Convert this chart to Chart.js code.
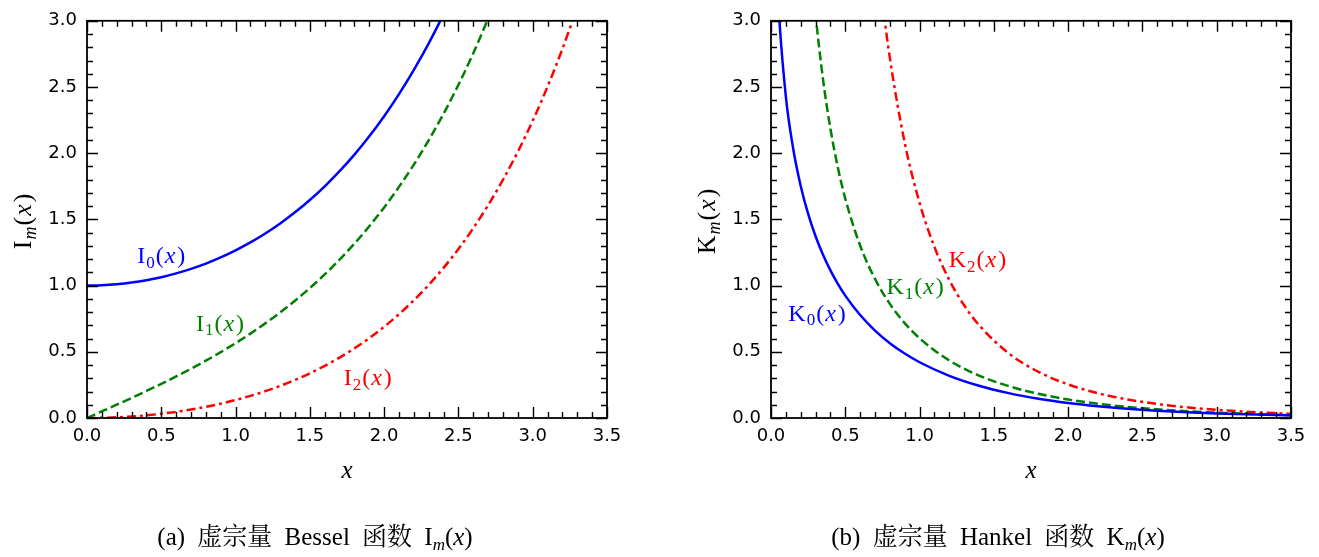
<!DOCTYPE html>
<html><head><meta charset="utf-8">
<script src="https://cdn.jsdelivr.net/npm/chart.js@4/dist/chart.umd.min.js"></script>
<style>
body{margin:0;width:1319px;height:557px;background:#fff;position:relative;overflow:hidden}
canvas{position:absolute;top:0}
#c1{left:0}
#c2{left:659px}
.cap{position:absolute;top:524px;font-family:'Liberation Serif','Noto Serif CJK SC','Noto Sans CJK SC',serif;font-size:25px;line-height:26px;word-spacing:6px;white-space:nowrap;transform:translateX(-50%);color:#000}
.cap i{font-style:italic}
.cap sub{font-size:17px;font-style:italic;vertical-align:-5px;line-height:0}
</style></head><body>
<canvas id="c1" width="659" height="557"></canvas>
<canvas id="c2" width="660" height="557"></canvas>
<div class="cap" style="left:315px">(a) 虚宗量 Bessel 函数 I<sub>m</sub>(<i>x</i>)</div>
<div class="cap" style="left:998px">(b) 虚宗量 Hankel 函数 K<sub>m</sub>(<i>x</i>)</div>
<script>
// ---------- data ----------
const xI = [0.0,0.1,0.2,0.3,0.4,0.5,0.6,0.7,0.8,0.9,1.0,1.1,1.2,1.3,1.4,1.5,1.6,1.7,1.8,1.9,2.0,2.1,2.2,2.3,2.4,2.5,2.6,2.7,2.8,2.9,3.0,3.1,3.2,3.3];
const I0 = [1.0,1.0025,1.0100,1.0226,1.0404,1.0635,1.0920,1.1263,1.1665,1.2130,1.2661,1.3262,1.3937,1.4693,1.5534,1.6467,1.7500,1.8640,1.9896,2.1277,2.2796,2.4463,2.6291,2.8296,3.0493];
const I1 = [0.0,0.0501,0.1005,0.1517,0.2040,0.2579,0.3137,0.3719,0.4329,0.4971,0.5652,0.6375,0.7147,0.7973,0.8861,0.9817,1.0848,1.1963,1.3172,1.4482,1.5906,1.7455,1.9141,2.0978,2.2981,2.5167,2.7554,3.0161];
const I2 = [0.0,0.0013,0.0050,0.0113,0.0203,0.0319,0.0464,0.0638,0.0844,0.1082,0.1357,0.1670,0.2026,0.2426,0.2875,0.3378,0.3940,0.4565,0.5260,0.6033,0.6889,0.7838,0.8891,1.0054,1.1342,1.2765,1.4338,1.6075,1.7994,2.0113,2.2452,2.5034,2.7883,3.1027];

const K0x = [0.04,0.05,0.1,0.15,0.2,0.25,0.3,0.35,0.4,0.45,0.5,0.6,0.7,0.8,0.9,1.0,1.2,1.4,1.6,1.8,2.0,2.2,2.4,2.6,2.8,3.0,3.2,3.4,3.5];
const K0y = [3.3365,3.1142,2.4271,2.0300,1.7527,1.5415,1.3725,1.2327,1.1145,1.0129,0.9244,0.7775,0.6605,0.5653,0.4867,0.4210,0.3185,0.2437,0.1880,0.1459,0.1139,0.0893,0.0702,0.0554,0.0438,0.0347,0.0276,0.0220,0.0196];
const K1x = [0.25,0.3,0.35,0.4,0.45,0.5,0.6,0.7,0.8,0.9,1.0,1.2,1.4,1.6,1.8,2.0,2.2,2.4,2.6,2.8,3.0,3.2,3.4,3.5];
const K1y = [3.7470,3.0560,2.5591,2.1844,1.8915,1.6564,1.3028,1.0503,0.8618,0.7165,0.6019,0.4346,0.3208,0.2406,0.1826,0.1399,0.1079,0.0837,0.0653,0.0511,0.0402,0.0316,0.0250,0.0222];
const K2x = [0.7,0.75,0.8,0.9,1.0,1.1,1.2,1.3,1.4,1.6,1.8,2.0,2.2,2.4,2.6,2.8,3.0,3.2,3.4,3.5];
const K2y = [3.6614,3.1429,2.7198,2.0789,1.6248,1.2924,1.0429,0.8513,0.7020,0.4887,0.3488,0.2538,0.1874,0.1400,0.1056,0.0803,0.0615,0.0474,0.0367,0.0323];

const xTicks = [0.0,0.5,1.0,1.5,2.0,2.5,3.0,3.5];
const yTicks = [0.0,0.5,1.0,1.5,2.0,2.5,3.0];

// ---------- helpers ----------
const SERIF = '"Liberation Serif", "DejaVu Serif", serif';
function pts(xs, ys){ return ys.map((v,i)=>({x:xs[i], y:v})); }

function drawMath(ctx, cx, cy, base, sub, subItalic, size, color){
  const parts = [
    {t:base, f: size+'px '+SERIF, dy:0, gap:1},
    {t:sub, f:(subItalic?'italic ':'')+Math.round(size*0.7)+'px '+SERIF, dy:size*0.2, gap:1},
    {t:'(', f:size+'px '+SERIF, dy:0, gap:1},
    {t:'x', f:'italic '+size+'px '+SERIF, dy:0},
    {t:')', f:size+'px '+SERIF, dy:0, pre:2}
  ];
  let w = 0;
  parts.forEach(p=>{ ctx.font=p.f; p.w=ctx.measureText(p.t).width + (p.gap||0) + (p.pre||0); w+=p.w; });
  let x = cx - w/2;
  ctx.fillStyle = color;
  ctx.textBaseline = 'alphabetic';
  ctx.textAlign = 'left';
  const base_y = cy + size*0.33;
  parts.forEach(p=>{ ctx.font=p.f; ctx.fillText(p.t, x+(p.pre||0), base_y+p.dy); x+=p.w; });
}

const framePlugin = {
  id:'frame',
  afterDatasetsDraw(chart){
    const {ctx, chartArea:a, scales:{x,y}} = chart;
    const o = chart.options.plugins.frame;
    ctx.save();
    ctx.strokeStyle='#000';
    ctx.lineWidth=1.4;
    ctx.beginPath();
    for(let i=0;i<=35;i++){
      const px = Math.round(x.getPixelForValue(i/10))+0.5;
      const L = (i%5===0)?11:6;
      ctx.moveTo(px,a.bottom); ctx.lineTo(px,a.bottom-L);
      ctx.moveTo(px,a.top); ctx.lineTo(px,a.top+L);
    }
    for(let i=0;i<=30;i++){
      const py = Math.round(y.getPixelForValue(i/10))+0.5;
      const L = (i%5===0)?11:6;
      ctx.moveTo(a.left,py); ctx.lineTo(a.left+L,py);
      ctx.moveTo(a.right,py); ctx.lineTo(a.right-L,py);
    }
    ctx.stroke();
    ctx.lineWidth=1.8;
    ctx.strokeRect(a.left, a.top, a.right-a.left, a.bottom-a.top);
    // curve labels
    o.labels.forEach(l=>{
      drawMath(ctx, x.getPixelForValue(l.x), y.getPixelForValue(l.y), l.base, l.sub, false, 24, l.color);
    });
    // axis titles
    ctx.font = 'italic 25px '+SERIF;
    ctx.fillStyle='#000'; ctx.textAlign='center'; ctx.textBaseline='middle';
    ctx.fillText('x', (a.left+a.right)/2, 471);
    ctx.save();
    ctx.translate(a.left - o.ytitleOff, (a.top+a.bottom)/2 + 2);
    ctx.rotate(-Math.PI/2);
    drawMath(ctx, 0, 0, o.ybase, 'm', true, 26, '#000');
    ctx.restore();
    ctx.restore();
  }
};

function makeChart(id, datasets, padRight, yWidth, labels, ybase){
  return new Chart(document.getElementById(id), {
    type:'line',
    data:{datasets},
    options:{
      responsive:false, animation:false,
      layout:{padding:{left:0, right:padRight, top:17, bottom:0}},
      elements:{point:{radius:0}, line:{borderWidth:2.5, cubicInterpolationMode:'monotone'}},
      plugins:{legend:{display:false}, tooltip:{enabled:false},
        frame:{labels, ybase, ytitleOff:65}},
      scales:{
        x:{type:'linear', min:0, max:3.5,
           grid:{display:false, drawTicks:false}, border:{display:false},
           afterBuildTicks: s=>{ s.ticks = xTicks.map(v=>({value:v})); },
           afterFit: s=>{ s.height = 139; },
           ticks:{padding:8, color:'#000', font:{family:'"DejaVu Sans"', size:18}, callback:v=>Number(v).toFixed(1), maxRotation:0}},
        y:{type:'linear', min:0, max:3,
           grid:{display:false, drawTicks:false}, border:{display:false},
           afterBuildTicks: s=>{ s.ticks = yTicks.map(v=>({value:v})); },
           afterFit: s=>{ s.width = yWidth; },
           ticks:{padding:10, color:'#000', font:{family:'"DejaVu Sans"', size:18}, callback:v=>Number(v).toFixed(1)}}
      }
    },
    plugins:[framePlugin]
  });
}

makeChart('c1', [
  {data:pts(xI,I0), borderColor:'#0000ff', clip:0},
  {data:pts(xI,I1), borderColor:'#008000', borderDash:[9,4], clip:0},
  {data:pts(xI,I2), borderColor:'#ff0000', borderDash:[9,4,3,4], clip:0}
], 52, 87, [
  {x:0.50, y:1.23, base:'I', sub:'0', color:'#0000ff'},
  {x:0.895, y:0.72, base:'I', sub:'1', color:'#008000'},
  {x:1.89, y:0.31, base:'I', sub:'2', color:'#ff0000'}
], 'I');

makeChart('c2', [
  {data:pts(K0x,K0y), borderColor:'#0000ff', clip:0},
  {data:pts(K1x,K1y), borderColor:'#008000', borderDash:[9,4], clip:0},
  {data:pts(K2x,K2y), borderColor:'#ff0000', borderDash:[9,4,3,4], clip:0}
], 28, 112, [
  {x:0.31, y:0.795, base:'K', sub:'0', color:'#0000ff'},
  {x:0.97, y:0.995, base:'K', sub:'1', color:'#008000'},
  {x:1.39, y:1.20, base:'K', sub:'2', color:'#ff0000'}
], 'K');
</script>
</body></html>
